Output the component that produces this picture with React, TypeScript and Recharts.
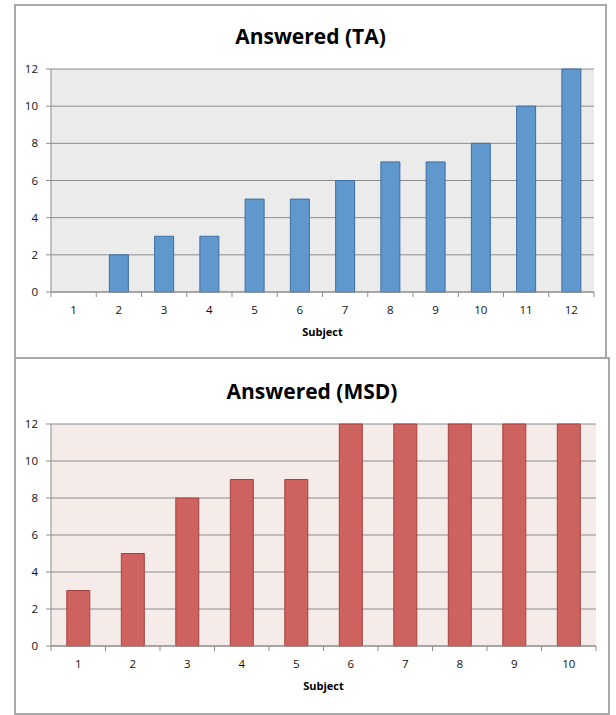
import { BarChart, Bar, XAxis, YAxis, CartesianGrid, Label } from 'recharts';

const taSubjects = ['1', '2', '3', '4', '5', '6', '7', '8', '9', '10', '11', '12'];
const taAnswered = [0, 2, 3, 3, 5, 5, 6, 7, 7, 8, 10, 12];

const msdSubjects = ['1', '2', '3', '4', '5', '6', '7', '8', '9', '10'];
const msdAnswered = [3, 5, 8, 9, 9, 12, 12, 12, 12, 12];

const yTicks = [0, 2, 4, 6, 8, 10, 12];

const FONT = '"Open Sans", "Liberation Sans", sans-serif';
const AXIS_GREY = '#8c8c8c';
const TICK_SIZE = 5;
const TICK_MARGIN = 9;
const Y_AXIS_W = 37;

interface PanelProps {
  title: string;
  subjects: string[];
  values: number[];
  top: number;
  width: number;
  height: number;
  margin: { top: number; right: number; bottom: number; left: number };
  xAxisHeight: number;
  titleY: number;
  plotFill: string;
  barFill: string;
  barStroke: string;
}

// category label centred under the bar, tick marks on the category boundaries
function SubjectTick(props: any) {
  const { x, y, payload, index, band, count } = props;
  const axisY = y - TICK_SIZE - TICK_MARGIN;
  return (
    <g>
      <line x1={x - band / 2} x2={x - band / 2} y1={axisY} y2={axisY + TICK_SIZE} stroke={AXIS_GREY} />
      {index === count - 1 && (
        <line x1={x + band / 2} x2={x + band / 2} y1={axisY} y2={axisY + TICK_SIZE} stroke={AXIS_GREY} />
      )}
      <text x={x} y={y} dy="0.71em" textAnchor="middle" fontSize={11.5} fontFamily={FONT} fill="#111">
        {payload.value}
      </text>
    </g>
  );
}

function Panel({
  title,
  subjects,
  values,
  top,
  width,
  height,
  margin,
  xAxisHeight,
  titleY,
  plotFill,
  barFill,
  barStroke,
}: PanelProps) {
  const data = subjects.map((s, i) => ({ subject: s, answered: values[i] }));
  const plotW = width - margin.left - margin.right - Y_AXIS_W;
  const band = plotW / subjects.length;

  return (
    <div
      style={{
        position: 'absolute',
        left: 14,
        top,
        width,
        height,
        boxSizing: 'border-box',
        border: '2px solid #a8a8a8',
        background: '#fff',
      }}
    >
      <div
        style={{
          position: 'absolute',
          left: 0,
          right: 0,
          top: titleY - 14,
          textAlign: 'center',
          fontFamily: FONT,
          fontWeight: 700,
          fontSize: 21,
          lineHeight: '28px',
          color: '#000',
        }}
      >
        {title}
      </div>
      <div style={{ position: 'absolute', left: -2, top: -2 }}>
        <BarChart width={width} height={height} data={data} margin={margin} barCategoryGap="29%">
          <CartesianGrid vertical={false} stroke={AXIS_GREY} fill={plotFill} fillOpacity={1} />
          <XAxis
            dataKey="subject"
            height={xAxisHeight}
            stroke={AXIS_GREY}
            tickLine={false}
            tickSize={TICK_SIZE}
            tickMargin={TICK_MARGIN}
            interval={0}
            tick={(p: any) => <SubjectTick {...p} band={band} count={subjects.length} />}
          >
            <Label
              value="Subject"
              position="insideBottom"
              offset={xAxisHeight - 44}
              style={{ fontFamily: FONT, fontWeight: 700, fontSize: 11, fill: '#000' }}
            />
          </XAxis>
          <YAxis
            width={Y_AXIS_W}
            domain={[0, 12]}
            ticks={yTicks}
            interval={0}
            stroke={AXIS_GREY}
            tickSize={TICK_SIZE}
            tickMargin={8}
            tick={{ fontSize: 11.5, fontFamily: FONT, fill: '#111' }}
          />
          <Bar dataKey="answered" fill={barFill} stroke={barStroke} strokeWidth={1} isAnimationActive={false} />
        </BarChart>
      </div>
    </div>
  );
}

export default function App() {
  return (
    <div style={{ position: 'absolute', left: 0, top: 0, width: 616, height: 715, background: '#fff' }}>
      <Panel
        title="Answered (TA)"
        subjects={taSubjects}
        values={taAnswered}
        top={4}
        width={593}
        height={355}
        margin={{ top: 65, right: 13, bottom: 0, left: 0 }}
        xAxisHeight={67}
        titleY={30}
        plotFill="#ebebeb"
        barFill="#6097cc"
        barStroke="#3e6ea3"
      />
      <Panel
        title="Answered (MSD)"
        subjects={msdSubjects}
        values={msdAnswered}
        top={357}
        width={596}
        height={358}
        margin={{ top: 67, right: 14, bottom: 0, left: 0 }}
        xAxisHeight={69}
        titleY={32}
        plotFill="#f5ecea"
        barFill="#cd625f"
        barStroke="#a3423f"
      />
    </div>
  );
}
